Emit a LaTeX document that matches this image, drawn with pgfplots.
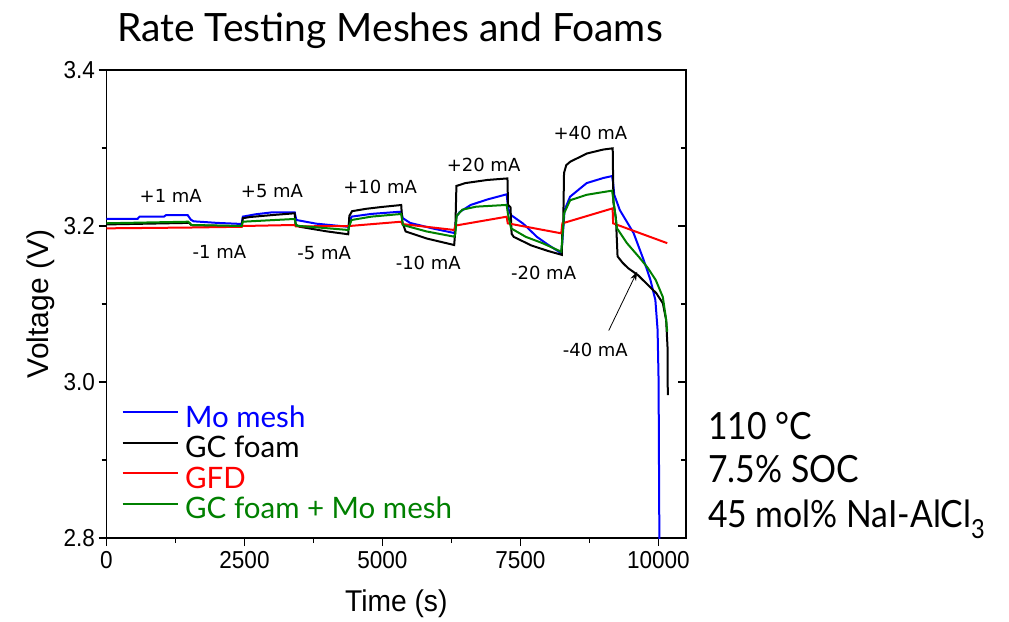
\documentclass[border=0pt]{standalone}
\usepackage{fontspec}
\usepackage{pgfplots}
\pgfplotsset{compat=1.18}
\usetikzlibrary{arrows.meta}
\setmainfont{Liberation Sans}
\newfontfamily\gill{Lato}
\newfontfamily\gillr[FakeStretch=0.9]{Lato}
\newfontfamily\tickf[FakeStretch=0.92]{Liberation Sans}
\newfontfamily\labf[FakeStretch=0.94]{Liberation Sans}
\newfontfamily\annf{DejaVu Sans}
\definecolor{cblue}{RGB}{0,0,255}
\definecolor{cred}{RGB}{255,0,0}
\definecolor{cgreen}{RGB}{0,128,0}
\begin{document}
\begin{tikzpicture}
\path[use as bounding box] (0pt,0pt) rectangle (1009pt,621pt);
\node[anchor=base, font=\gill\fontsize{39}{42}\selectfont] at (390pt,579pt) {Rate Testing Meshes and Foams};
\begin{axis}[
 at={(106.5pt,83pt)}, anchor=south west, scale only axis, width=579.5pt, height=468pt,
 xmin=0, xmax=10500, ymin=2.8, ymax=3.4,
 scaled x ticks=false, scaled y ticks=false,
 xtick={0,2500,5000,7500,10000}, xticklabels={0,2500,5000,7500,10000},
 minor xtick={1250,3750,6250,8750},
 ytick={2.8,3.0,3.2,3.4}, yticklabels={2.8,3.0,3.2,3.4},
 minor ytick={2.9,3.1,3.3},
 xtick pos=bottom, ytick pos=left, tick align=outside,
 major tick length=8pt, minor tick length=5pt,
 every tick/.style={black,line width=1.2pt},
 axis line style={line width=1.3pt},
 xticklabel style={font=\tickf\fontsize{24.5}{26}\selectfont, yshift=-2pt},
 yticklabel style={font=\tickf\fontsize{24.5}{26}\selectfont},
 xlabel={Time (s)}, ylabel={Voltage (V)},
 xlabel style={font=\labf\fontsize{30}{32}\selectfont, at={(axis description cs:0.5,-0.156)}, anchor=base},
 ylabel style={font=\fontsize{30}{32}\selectfont, at={(axis description cs:-0.0993,0.5)}, anchor=base, rotate=0},
 legend style={at={(0.0262,0.284)}, anchor=north west, draw=none, fill=none, inner sep=0pt, outer sep=0pt,
   font=\gill\fontsize{29.5}{31}\selectfont, row sep=0pt,
   nodes={inner sep=0pt, text height=22pt, text depth=8.5pt},
   /tikz/every odd column/.append style={column sep=6.5pt}},
 legend image code/.code={\draw[#1] (0pt,8pt) -- (55pt,8pt);},
 legend cell align=left,
 clip=true,
]
\addplot[cblue, line width=2pt] coordinates {
(0,3.209) (560,3.209) (600,3.212) (1040,3.212) (1080,3.214) (1470,3.214) (1530,3.208) (1580,3.206) (2000,3.204) (2450,3.2026)
(2470,3.212) (2700,3.215) (3000,3.2175) (3410,3.2175) (3440,3.2077) (3800,3.203) (4380,3.199)
(4400,3.205) (4440,3.212) (4800,3.2155) (5340,3.2184) (5370,3.210) (5500,3.204) (5900,3.197) (6300,3.191)
(6320,3.196) (6340,3.212) (6400,3.218) (6600,3.227) (6900,3.234) (7250,3.2406) (7280,3.222) (7330,3.214)
(7550,3.203) (7800,3.186) (8000,3.176) (8240,3.165) (8260,3.18) (8300,3.2205) (8400,3.2376) (8700,3.255)
(9000,3.2615) (9160,3.264) (9180,3.255) (9200,3.240) (9300,3.2205) (9550,3.191) (9735,3.156) (9855,3.131)
(9945,3.105) (9985,3.067) (10003,3.003) (10018,2.79)
};
\addlegendentry{\textcolor{cblue}{Mo mesh}}
\addplot[black, line width=2pt] coordinates {
(0,3.202) (1500,3.204) (1540,3.201) (2450,3.1995) (2470,3.210) (2600,3.2115) (3000,3.214) (3410,3.2163)
(3425,3.202) (3500,3.199) (4000,3.193) (4380,3.1894) (4400,3.213) (4450,3.219) (4700,3.222) (5000,3.2245)
(5340,3.2269) (5360,3.205) (5420,3.193) (5800,3.184) (6300,3.1756) (6320,3.195) (6340,3.2513) (6500,3.255)
(6900,3.259) (7265,3.261) (7275,3.227) (7320,3.224) (7340,3.190) (7380,3.186) (7700,3.175) (8000,3.168)
(8250,3.163) (8258,3.195) (8275,3.200) (8290,3.268) (8330,3.278) (8404,3.2825) (8707,3.293) (9000,3.298)
(9172,3.2996) (9185,3.23) (9230,3.21) (9260,3.161) (9350,3.153) (9450,3.146) (9630,3.137) (9810,3.1244)
(9960,3.114) (10080,3.101) (10140,3.0795) (10165,3.045) (10170,2.9833)
};
\addlegendentry{GC foam}
\addplot[cred, line width=2pt] coordinates {
(0,3.197) (1480,3.198) (2450,3.199) (2470,3.200) (3410,3.2013) (3430,3.1995) (4380,3.200) (4400,3.200)
(5340,3.2055) (5360,3.2025) (6300,3.1949) (6320,3.2005) (7250,3.2119) (7270,3.2034) (8240,3.1906)
(8260,3.2034) (9170,3.2226) (9180,3.2034) (10160,3.178)
};
\addlegendentry{\textcolor{cred}{GFD}}
\addplot[cgreen, line width=2pt] coordinates {
(0,3.2035) (1480,3.2055) (1540,3.2013) (2450,3.200) (2470,3.2055) (3000,3.2075) (3410,3.209) (3440,3.2004)
(4380,3.1949) (4400,3.200) (4440,3.2077) (4800,3.212) (5340,3.2154) (5370,3.2013) (5800,3.193) (6300,3.1863)
(6320,3.19) (6345,3.213) (6450,3.221) (6700,3.2248) (7250,3.227) (7275,3.215) (7330,3.197) (7600,3.186)
(7900,3.178) (8240,3.167) (8260,3.185) (8290,3.216) (8400,3.233) (8700,3.240) (9000,3.2435) (9160,3.2453)
(9180,3.236) (9250,3.197) (9430,3.178) (9650,3.16) (9800,3.147) (9950,3.131) (10080,3.109) (10140,3.08)
(10160,3.0645)
};
\addlegendentry{\textcolor{cgreen}{GC foam + Mo mesh}}
\begin{scope}[font=\annf\fontsize{18}{18}\selectfont]
\node at (axis cs:1164,3.2388) {+1 mA};
\node at (axis cs:2999,3.2450) {+5 mA};
\node at (axis cs:4959,3.2496) {+10 mA};
\node at (axis cs:6832,3.2782) {+20 mA};
\node at (axis cs:8767,3.3188) {+40 mA};
\node at (axis cs:2046,3.1671) {-1 mA};
\node at (axis cs:3944,3.1650) {-5 mA};
\node at (axis cs:5830,3.1530) {-10 mA};
\node at (axis cs:7920,3.1401) {-20 mA};
\node at (axis cs:8857,3.0410) {-40 mA};
\end{scope}
\draw[-{Stealth[length=9pt,width=6pt]}, line width=0.8pt] (axis cs:9100,3.066) -- (axis cs:9615,3.1415);
\end{axis}
\begin{axis}[
 at={(106.5pt,83pt)}, anchor=south west, scale only axis, width=579.5pt, height=468pt,
 xmin=0, xmax=10500, ymin=2.8, ymax=3.4,
 axis x line=none, axis y line*=right,
 ytick={2.8,3.0,3.2,3.4}, yticklabels={}, minor ytick={2.9,3.1,3.3},
 tick align=inside, major tick length=8pt, minor tick length=5pt,
 every tick/.style={black,line width=1.2pt},
 axis line style={line width=1.3pt},
]
\end{axis}
\begin{scope}[font=\gillr\fontsize{37.5}{40}\selectfont]
\node[anchor=base west, inner sep=0pt] at (708pt,181pt) {110 °C};
\node[anchor=base west, inner sep=0pt] at (708pt,138pt) {7.5\% SOC};
\node[anchor=base west, inner sep=0pt] at (708pt,93pt) {45 mol\% NaI-AlCl\textsubscript{3}};
\end{scope}
\end{tikzpicture}
\end{document}
